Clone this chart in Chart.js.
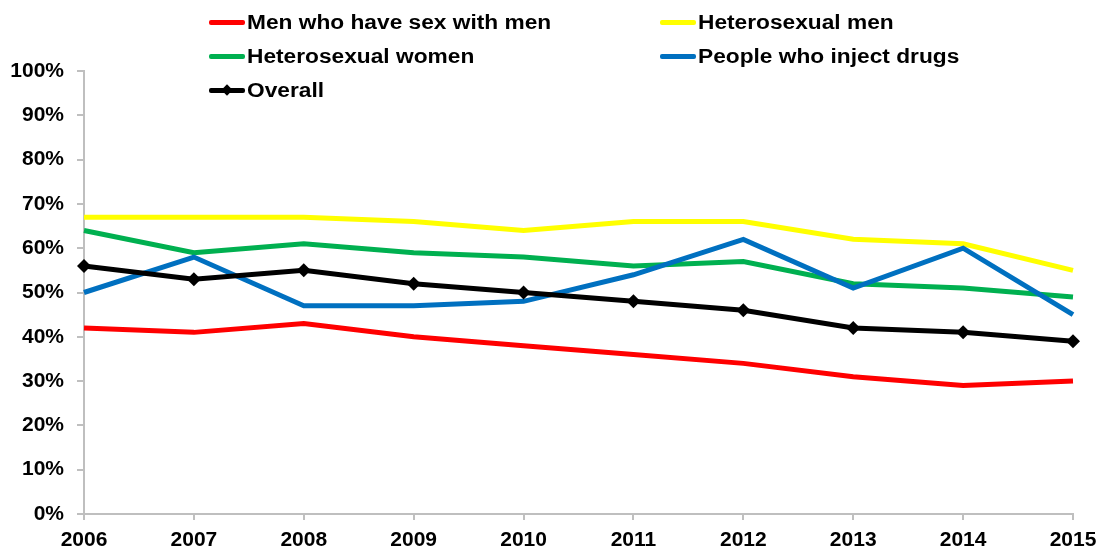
<!DOCTYPE html>
<html>
<head>
<meta charset="utf-8">
<script src="https://cdn.jsdelivr.net/npm/chart.js@4/dist/chart.umd.min.js"></script>
<style>
  html, body { margin: 0; padding: 0; background: #fff; }
  #wrap { position: relative; width: 1101px; height: 554px; }
  canvas { position: absolute; left: 0; top: 0; }
  .lg { position: absolute; font: bold 19.5px "Liberation Sans", Arial, sans-serif; color: #000; white-space: nowrap; line-height: 22px; transform: scaleX(1.165); transform-origin: 0 50%; }
  .sw { position: absolute; height: 5px; width: 36px; border-radius: 2px; }
  .dm { position: absolute; width: 8px; height: 8px; background: #000; transform: rotate(45deg); }
</style>
</head>
<body>
<div id="wrap">
  <canvas id="c" width="1101" height="554"></canvas>
  <div id="legend"></div>
</div>
<script>
const years = ["2006","2007","2008","2009","2010","2011","2012","2013","2014","2015"];
const msm = [42, 41, 43, 40, 38, 36, 34, 31, 29, 30];
const hetMen = [67, 67, 67, 66, 64, 66, 66, 62, 61, 55];
const hetWomen = [64, 59, 61, 59, 58, 56, 57, 52, 51, 49];
const pwid = [50, 58, 47, 47, 48, 54, 62, 51, 60, 45];
const overall = [56, 53, 55, 52, 50, 48, 46, 42, 41, 39];
const seriesNames = ["Men who have sex with men", "Heterosexual men", "Heterosexual women", "People who inject drugs", "Overall"];
const yTicks = [0, 10, 20, 30, 40, 50, 60, 70, 80, 90, 100];

const colors = ["#FF0000", "#FFFF00", "#00B050", "#0070C0", "#000000"];
const seriesData = [msm, hetMen, hetWomen, pwid, overall];
const orders = [4, 3, 2, 1, 0];

const datasets = seriesData.map((d, i) => ({
  label: seriesNames[i],
  data: d,
  borderColor: colors[i],
  backgroundColor: colors[i],
  borderWidth: 5,
  tension: 0,
  fill: false,
  order: orders[i],
  pointStyle: i === 4 ? 'rectRot' : 'circle',
  pointRadius: i === 4 ? 7 : 0,
  pointHoverRadius: i === 4 ? 7 : 0,
  pointBorderWidth: 0
}));

const tickFont = { family: "'Liberation Sans', Arial, sans-serif", size: 21, weight: 'bold' };

new Chart(document.getElementById('c'), {
  type: 'line',
  data: { labels: years, datasets },
  options: {
    responsive: false,
    animation: false,
    layout: { padding: { left: 0, top: 71, right: 28, bottom: 0 } },
    plugins: { legend: { display: false }, tooltip: { enabled: false } },
    scales: {
      x: {
        type: 'category',
        offset: false,
        grid: { drawOnChartArea: false, drawTicks: true, tickLength: 6, color: '#BFBFBF', lineWidth: 2 },
        border: { display: true, color: '#BFBFBF', width: 2 },
        ticks: { color: '#000', font: tickFont, padding: 8, maxRotation: 0, autoSkip: false },
        afterFit: s => { s.height = 40; s.paddingLeft = 0; s.paddingRight = 0; }
      },
      y: {
        min: 0, max: 100,
        afterBuildTicks: s => { s.ticks = yTicks.map(v => ({ value: v })); },
        grid: { drawOnChartArea: false, drawTicks: true, tickLength: 7, color: '#BFBFBF', lineWidth: 2 },
        border: { display: true, color: '#BFBFBF', width: 2 },
        ticks: { color: '#000', font: tickFont, padding: 13, callback: v => v + '%' },
        afterFit: s => { s.width = 84; s.paddingTop = 0; s.paddingBottom = 0; }
      }
    }
  }
});

// HTML legend
const legendPos = [
  { x: 209, y: 22 }, { x: 660, y: 22 },
  { x: 209, y: 56 }, { x: 660, y: 56 },
  { x: 209, y: 90 }
];
const lg = document.getElementById('legend');
seriesNames.forEach((name, i) => {
  const p = legendPos[i];
  const sw = document.createElement('div');
  sw.className = 'sw';
  sw.style.left = p.x + 'px';
  sw.style.top = (p.y - 2.5) + 'px';
  sw.style.background = colors[i];
  lg.appendChild(sw);
  if (i === 4) {
    const dm = document.createElement('div');
    dm.className = 'dm';
    dm.style.left = (p.x + 14) + 'px';
    dm.style.top = (p.y - 4) + 'px';
    lg.appendChild(dm);
  }
  const t = document.createElement('div');
  t.className = 'lg';
  t.textContent = name;
  t.style.left = (p.x + 38) + 'px';
  t.style.top = (p.y - 11) + 'px';
  lg.appendChild(t);
});
</script>
</body>
</html>
